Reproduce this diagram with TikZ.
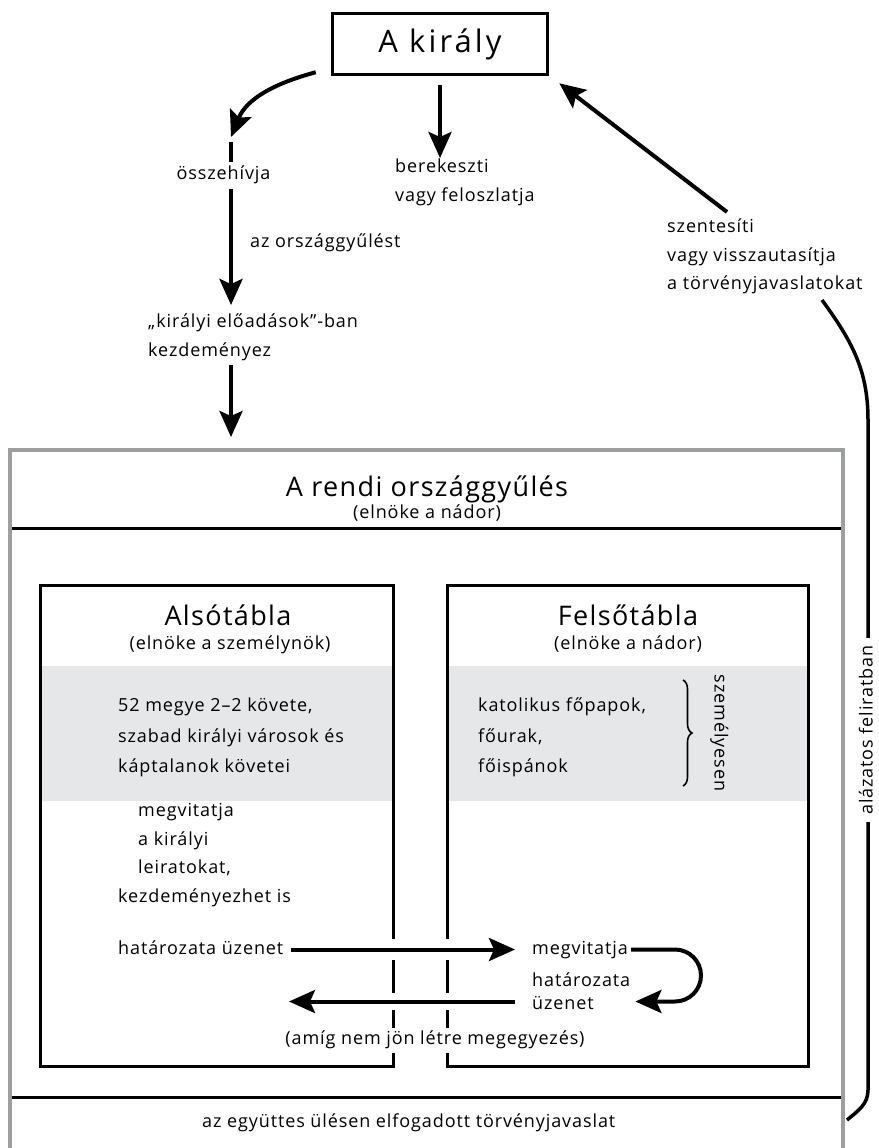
\documentclass[tikz,border=0pt]{standalone}
\usepackage{fontspec}
\setmainfont{Open Sans}[LetterSpace=5]
\usetikzlibrary{arrows.meta, decorations.pathreplacing}
\definecolor{rimgrey}{HTML}{9D9E9F}
\definecolor{bandgrey}{HTML}{E6E7E8}

\begin{document}
\begin{tikzpicture}[x=10pt, y=10pt,
        arr/.style={-{Stealth[length=26pt, width=23pt, inset=5pt]}, line width=4pt},
        frame/.style={line width=3pt},
        rim/.style={line width=4pt, draw=rimgrey},
        lab/.style={inner sep=0pt, text height=13pt, text depth=4pt, font=\fontsize{18}{29}\selectfont},
        txt/.style={inner sep=0pt, align=left, font=\fontsize{18}{29}\selectfont},
        head/.style={inner sep=0pt, font=\fontsize{27}{32}\selectfont}]
    \useasboundingbox (0, 0) rectangle (87.8, -114.8);

        %%KIRALY
    \node[draw, line width=3.5pt, minimum width=215pt, minimum height=61pt, inner sep=0pt,
        font=\fontsize{31}{36}\selectfont\addfontfeature{LetterSpace=10}] (kiraly) at (44, -4.4) {A király};

        %%OSSZEHIVJA
    \coordinate (hivtip) at (23.1, -13.7);
    \coordinate (eloadtop) at (23.1, -30.5);
    \draw[arr]([xshift=-15pt, yshift=4pt]kiraly.south west) to[out=195, in=68] (hivtip);
    \draw[arr, shorten <=5pt](hivtip) to (eloadtop);
    \node[lab, fill=white, inner xsep=1pt, inner ysep=5pt] (osszehiv) at (22.35, -17.5) {összehívja};
    \node[lab, anchor=west] (orszgy) at (25, -24.3) {az országgyűlést};
    \node[txt, anchor=west] (eload) at (14.8, -33.75) {„királyi előadások”-ban\\kezdeményez};
    \coordinate (kezdbot) at (23.1, -36.5);
    \coordinate (rendtop) at (23.1, -43.7);
        \draw[arr](kezdbot) to (rendtop);

        %%BEREKESZTI
    \coordinate (berektip) at (44, -15.8);
        \draw[arr]([yshift=-8.5pt]kiraly.south) to (berektip);
    \node[txt, anchor=west] (berek) at (39.5, -18.25) {berekeszti\\vagy feloszlatja};

        %%SZENTESITI
    \node[txt, anchor=west, font=\fontsize{18}{28.5}\selectfont] (szent) at (66.7, -25.65) {szentesíti\\vagy visszautasítja\\a törvényjavaslatokat};
    \coordinate (szentfrom) at (72.7, -21.2);
        \draw[arr](szentfrom) to ([xshift=10pt, yshift=-7pt]kiraly.south east);

        %%FELIRAT
    \coordinate (felhead) at (82.2, -30);
    \coordinate (felfoot) at (84.7, -112);
    \draw[line width=3.5pt](felfoot) to[out=40, in=-90] (86.8, -109) -- (86.8, -42) to[out=90, in=-54] (felhead);
    \node[lab, rotate=90, fill=white, inner xsep=7pt, inner ysep=2pt] (alazat) at (86.8, -73) {alázatos feliratban};

        %%ORSZAGGYULES
    \fill[bandgrey](4.05, -66.6) rectangle (39.3, -80.1);
    \fill[bandgrey](44.7, -66.6) rectangle (80.8, -80.1);
    \draw[frame](1, -52.8) to (84.3, -52.8);
    \draw[frame](1, -109.7) to (84.3, -109.7);
    \draw[rim](1, -115.5) -- (1, -44.95) -- (84.3, -44.95) -- (84.3, -115.5);
    \node[head, anchor=base] (rendi) at (42.7, -49.6) {A rendi országgyűlés};
    \node[lab] (rendielnok) at (42.7, -51.35) {(elnöke a nádor)};

        %%ALSOTABLA
    \draw[frame](39.3, -93.9) -- (39.3, -58.5) -- (4.05, -58.5) -- (4.05, -106.6) -- (39.3, -106.6) -- (39.3, -105.3);
        \draw[frame](39.3, -96) to (39.3, -99.3);
        \draw[frame](39.3, -101) to (39.3, -102.8);
    \node[head, anchor=base] (also) at (22.8, -62.5) {Alsótábla};
    \node[lab] (alsoelnok) at (23, -64.5) {(elnöke a személynök)};
    \node[txt, anchor=west, font=\fontsize{18}{30.5}\selectfont] (alsotag) at (11.8, -73.75) {52 megye 2–2 követe,\\szabad királyi városok és\\káptalanok követei};
    \node[txt, anchor=west, font=\fontsize{18}{28.7}\selectfont] (alsojog) at (11.8, -85.5) {\hspace*{20pt}megvitatja\\\hspace*{20pt}a királyi\\\hspace*{20pt}leiratokat,\\kezdeményezhet is};

        %%FELSOTABLA
    \draw[frame](44.7, -93.9) -- (44.7, -58.5) -- (80.8, -58.5) -- (80.8, -106.6) -- (44.7, -106.6) -- (44.7, -105.3);
        \draw[frame](44.7, -96) to (44.7, -99.3);
        \draw[frame](44.7, -101) to (44.7, -102.8);
    \node[head, anchor=base] (felso) at (62.8, -62.5) {Felsőtábla};
    \node[lab] (felsoelnok) at (62.8, -64.5) {(elnöke a nádor)};
    \node[txt, anchor=west, font=\fontsize{18}{30.5}\selectfont] (felsotag) at (47.8, -73.75) {katolikus főpapok,\\főurak,\\főispánok};
        \draw[decorate, decoration={brace, amplitude=9pt}, line width=1.6pt](68.3, -68) to (68.3, -78.6);
    \node[lab, rotate=-90] (szemely) at (71.9, -73.3) {személyesen};

        %%UZENETEK
    \node[lab, anchor=west] (hat1) at (11.8, -94.95) {határozata üzenet};
    \node[lab, anchor=west] (megv2) at (53.2, -94.95) {megvitatja};
    \node[txt, anchor=west, font=\fontsize{18}{23}\selectfont] (hat2) at (53.2, -99.15) {határozata\\üzenet};
        \draw[arr, shorten <=7pt, shorten >=17pt](hat1) to (megv2);
        \draw[arr, shorten <=3pt](megv2.east) -- (67.5, -94.95) arc[start angle=90, end angle=-90, radius=26pt] -- ([xshift=5pt, yshift=-10pt]hat2.east);
    \coordinate (vissza) at (28.9, -100.15);
        \draw[arr]([xshift=-17pt, yshift=-10pt]hat2.west) to (vissza);
    \node[lab] (amig) at (43.5, -104) {(amíg nem jön létre megegyezés)};

        %%EGYUTT
    \node[lab, anchor=west] (egyutt) at (20.2, -112.3) {az együttes ülésen elfogadott törvényjavaslat};
\end{tikzpicture}
\end{document}
